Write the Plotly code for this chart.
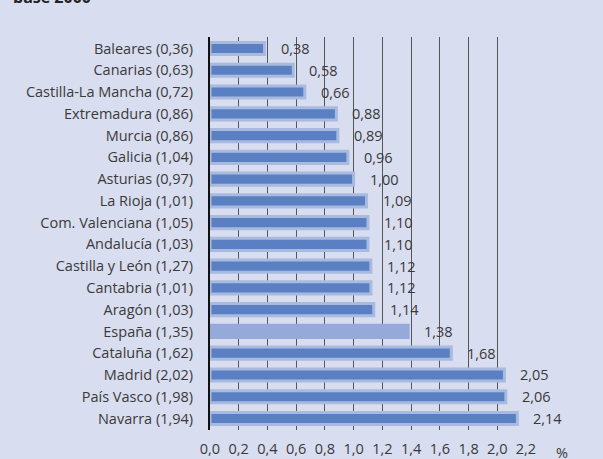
import plotly.graph_objects as go

regions = ["Baleares", "Canarias", "Castilla-La Mancha", "Extremadura", "Murcia",
           "Galicia", "Asturias", "La Rioja", "Com. Valenciana", "Andalucía",
           "Castilla y León", "Cantabria", "Aragón", "España", "Cataluña",
           "Madrid", "País Vasco", "Navarra"]
base_values = ["0,36", "0,63", "0,72", "0,86", "0,86", "1,04", "0,97", "1,01", "1,05",
               "1,03", "1,27", "1,01", "1,03", "1,35", "1,62", "2,02", "1,98", "1,94"]
values = [0.38, 0.58, 0.66, 0.88, 0.89, 0.96, 1.00, 1.09, 1.10, 1.10,
          1.12, 1.12, 1.14, 1.38, 1.68, 2.05, 2.06, 2.14]
x_ticks = [0.0, 0.2, 0.4, 0.6, 0.8, 1.0, 1.2, 1.4, 1.6, 1.8, 2.0, 2.2]

labels = [f"{r} ({b})" for r, b in zip(regions, base_values)]
highlight = "España"

bar_colors = ["#95a9db" if r == highlight else "#5a80c3" for r in regions]
line_colors = ["#95a9db" if r == highlight else "#a9badf" for r in regions]

BG = "#d9ddf0"
TXT = "#3a3a3a"
FONT = "Open Sans"
FS = 14.5

fig = go.Figure()
fig.add_trace(go.Bar(
    y=labels, x=values, orientation="h",
    marker=dict(color=bar_colors, line=dict(color=line_colors, width=3)),
    width=0.56, hoverinfo="skip",
))

for lab, v in zip(labels, values):
    fig.add_annotation(x=v, y=lab, xref="x", yref="y",
                       text=f"{v:.2f}".replace(".", ","), showarrow=False,
                       xanchor="left", xshift=14,
                       font=dict(family=FONT, size=FS, color=TXT))

fig.add_annotation(xref="paper", yref="paper", x=(562 - 210) / 316, y=0,
                   yshift=-22, xanchor="center", yanchor="middle",
                   text="%", showarrow=False,
                   font=dict(family=FONT, size=FS, color=TXT))

fig.add_annotation(xref="paper", yref="paper", x=-0.63, y=1, yanchor="bottom",
                   xanchor="left", yshift=27, text="<b>base 2000</b>", showarrow=False,
                   font=dict(family=FONT, size=16, color="#222"))

fig.update_layout(
    width=603, height=459,
    margin=dict(l=210, r=77, t=37, b=29, autoexpand=False),
    paper_bgcolor=BG, plot_bgcolor=BG,
    separators=",.",
    showlegend=False,
    font=dict(family=FONT, size=FS, color=TXT),
    xaxis=dict(range=[0, 2.2], tickvals=x_ticks, tickformat=".1f",
               showgrid=True, gridcolor="#555555", gridwidth=1,
               zeroline=False, showline=False, ticks="", automargin=False,
               ticklabelstandoff=8, fixedrange=True),
    yaxis=dict(autorange="reversed", showline=True, linecolor="#111111",
               linewidth=2, ticks="", ticklabelstandoff=12, showgrid=False,
               automargin=False, fixedrange=True),
)

fig.write_html("out.html", config={"displayModeBar": False},
               post_script="document.body.style.margin='0';"
                           "document.body.style.overflow='hidden';")
